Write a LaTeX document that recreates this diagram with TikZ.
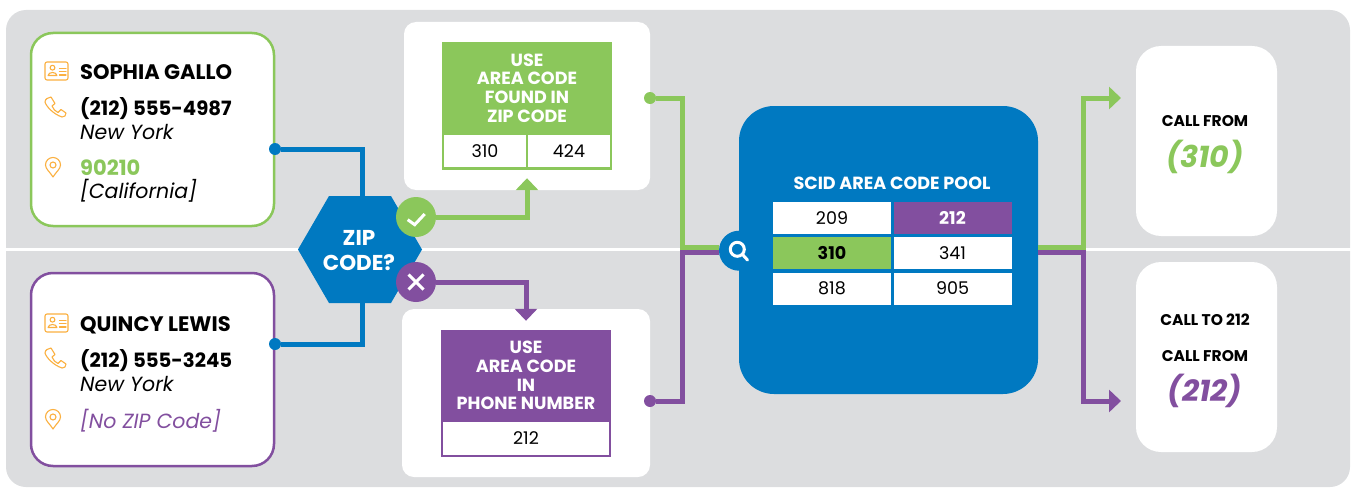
\documentclass[tikz,border=0pt]{standalone}
\usepackage{fontspec}
\setmainfont{Poppins}
\usetikzlibrary{arrows.meta}
\definecolor{panelgray}{HTML}{DCDDDF}
\definecolor{leafgreen}{HTML}{8BC75B}
\definecolor{plum}{HTML}{824F9F}
\definecolor{poolblue}{HTML}{0079C1}
\definecolor{iconamber}{HTML}{FBB040}
\tikzset{
	card/.style={draw,line width=2.5pt,fill=white,rounded corners=22pt,minimum width=243pt,minimum height=193pt,inner sep=0pt},
	whitebox/.style={fill=white,rounded corners=12pt,minimum width=246pt,minimum height=168pt,inner sep=0pt},
	callbox/.style={fill=white,rounded corners=25pt,minimum width=141pt,minimum height=190pt,inner sep=0pt},
	cell/.style={fill=white,inner sep=0pt,minimum height=32pt,text=black,font=\fontsize{17.5}{20}\selectfont},
	poolcell/.style={cell,minimum width=118pt},
	frame/.style={inner sep=0pt,minimum width=170pt},
	heading/.style={text=white,align=center,inner sep=0pt,font=\fontsize{17.6}{18.7}\selectfont\bfseries},
	infobold/.style={anchor=base west,inner sep=0pt,font=\fontsize{21}{24}\selectfont\bfseries},
	infophone/.style={anchor=base west,inner sep=0pt,font=\fontsize{19.7}{24}\selectfont\bfseries},
	infoital/.style={anchor=base west,inner sep=0pt,font=\fontsize{20.5}{24}\selectfont\itshape},
	calltext/.style={anchor=base,inner sep=0pt,font=\fontsize{15.5}{18}\selectfont\bfseries},
	callcode/.style={anchor=base,inner sep=0pt,font=\fontsize{30}{34}\selectfont\bfseries\itshape},
	dot/.style={circle,inner sep=0pt,minimum size=12pt},
	badge/.style={circle,inner sep=0pt,minimum size=40pt},
	wire/.style={line width=5pt},
	arrowwire/.style={wire,-{Triangle[width=22pt,length=12pt]}},
	glyph/.style={draw=white,line width=3pt},
	icon/.style={draw=iconamber,line width=1.1pt,line join=round,line cap=round},
	idicon/.pic={
		\draw[icon,rounded corners=2pt] (0,0) rectangle (23,18);
		\draw[icon] (7.5,5.7) circle (2.4);
		\draw[icon] (3,13.5) .. controls (3.5,9.5) and (11.5,9.5) .. (12,13.5) -- cycle;
		\draw[icon] (14.5,6.5) -- (21,6.5) (14.5,9.7) -- (21,9.7) (14.5,13) -- (21,13);
	},
	phoneicon/.pic={
		\draw[icon] (2,1.5) -- (6,0) -- (10,6.5) -- (7,9) .. controls (8,12) and (10.5,14.5) .. (13,15.5) -- (16,12.5) -- (21,16) -- (20,19) .. controls (19,20) and (18,20) .. (17,20) .. controls (8,17) and (1,9) .. (0,5) .. controls (0,3.5) and (1,2) .. (2,1.5) -- cycle;
	},
	pinicon/.pic={
		\draw[icon] (8,20) .. controls (5,15) and (0.5,12) .. (0.5,8) .. controls (0.5,3.5) and (4,0.5) .. (8,0.5) .. controls (12,0.5) and (15.5,3.5) .. (15.5,8) .. controls (15.5,12) and (11,15) .. (8,20) -- cycle;
		\draw[icon] (8,8) circle (3);
	}
}
\begin{document}
\begin{tikzpicture}[x=1pt,y=-1pt]
	\useasboundingbox (0,0) rectangle (1351,487);
	\fill[panelgray,rounded corners=20pt] (6,10) rectangle (1350,487);
	\draw[white,line width=2.6pt] (6,249.6) -- (1351,249.6);

	\node[card,draw=leafgreen] (sophia) at (152.5,129.5) {};
	\node[card,draw=plum] (quincy) at (152.5,369.5) {};
	\node[whitebox] (zipbox) at (527,106) {};
	\node[whitebox,minimum width=248pt] (phonebox) at (526,393) {};
	\node[callbox] (callzip) at (1206.5,141) {};
	\node[callbox] (callphone) at (1206.5,357) {};

	\pic at (45,62) {idicon};
	\pic at (45,97) {phoneicon};
	\pic at (45,157) {pinicon};
	\pic at (45,314) {idicon};
	\pic at (45,348) {phoneicon};
	\pic at (45,409) {pinicon};

	\node[infobold] (sophianame) at (80,79) {SOPHIA GALLO};
	\node[infophone] (sophiaphone) at (80,115) {(212) 555-4987};
	\node[infoital] (sophiacity) at (80,139) {New York};
	\node[infobold,text=leafgreen] (sophiazip) at (80,175) {90210};
	\node[infoital] (sophiastate) at (80,198) {[California]};
	\node[infobold] (quincyname) at (80,331) {QUINCY LEWIS};
	\node[infophone] (quincyphone) at (80,367) {(212) 555-3245};
	\node[infoital] (quincycity) at (80,391) {New York};
	\node[infoital,text=plum] (quincyzip) at (80,428) {[No ZIP Code]};

	\node[frame,fill=leafgreen,minimum height=128pt] (zipframe) at (527,106) {};
	\node[heading] (zipheading) at (527,88) {USE\\AREA CODE\\FOUND IN\\ZIP CODE};
	\node[cell,minimum width=82pt] (zipcella) at (485,151) {310};
	\node[cell,minimum width=82pt] (zipcellb) at (569,151) {424};
	\node[frame,fill=plum,minimum height=127pt] (phoneframe) at (526,393.5) {};
	\node[heading] (phoneheading) at (526,375.5) {USE\\AREA CODE\\IN\\PHONE NUMBER};
	\node[cell,minimum width=166pt,minimum height=33pt] (phonecell) at (526,438.5) {212};

	\node[dot,fill=poolblue] (sophiadot) at (275,149) {};
	\node[dot,fill=poolblue] (quincydot) at (275,344) {};
	\node[dot,fill=leafgreen] (zipdot) at (650,98) {};
	\node[dot,fill=plum] (phonedot) at (650,401) {};

	\coordinate (ziptop) at (362.5,196);
	\coordinate (zipbottom) at (362.5,303);
	\coordinate (greenin) at (682,247);
	\coordinate (plumin) at (682,252);
	\coordinate (greenup) at (1083,247);
	\coordinate (plumdown) at (1083,252);
	\coordinate (greenout) at (1121,98);
	\coordinate (plumout) at (1121,401);

	\node[circle,fill=poolblue,inner sep=0pt,minimum size=40pt] (lens) at (739,250.7) {};
	\node[fill=poolblue,rounded corners=35pt,minimum width=299pt,minimum height=288pt,inner sep=0pt] (pool) at (888.5,250) {};

	\draw[wire,poolblue] (sophiadot) -| (ziptop);
	\draw[wire,poolblue] (quincydot) -| (zipbottom);
	\draw[wire,leafgreen] (zipdot) -| (greenin) -- (greenin -| lens.west);
	\draw[wire,plum] (phonedot) -| (plumin) -- (plumin -| lens.west);
	\draw[arrowwire,leafgreen] (greenin -| pool.east) -- (greenup) |- (greenout);
	\draw[arrowwire,plum] (plumin -| pool.east) -- (plumdown) |- (plumout);

	\fill[poolblue] (298,249.5) -- (329,196) -- (391,196) -- (422,249.5) -- (391,303) -- (329,303) -- cycle;
	\node[text=white,align=center,inner sep=0pt,font=\fontsize{21.5}{25}\selectfont\bfseries] (zipcode) at (359,251) {ZIP\\CODE?};
	\node[badge,fill=leafgreen] (okmark) at (416,217) {};
	\node[badge,fill=plum] (badmark) at (416,282) {};
	\draw[arrowwire,leafgreen,shorten >=8pt] (okmark) -| (zipframe.south);
	\draw[arrowwire,plum,shorten >=9pt] (badmark) -| (phoneframe.north);
	\draw[glyph] (okmark) ++(-8.3,2.7) -- ++(7,5) -- ++(10,-10.7);
	\draw[glyph] (badmark) ++(-7.5,-7.5) -- ++(15,15) (badmark) ++(7.5,-7.5) -- ++(-15,15);

	\draw[glyph] (737.3,249.3) circle (7);
	\draw[glyph,line cap=round] (742.5,254.5) -- (747.5,260);

	\node[anchor=base,text=white,inner sep=0pt,font=\fontsize{17.6}{20}\selectfont\bfseries] (pooltitle) at (892,189) {SCID AREA CODE POOL};
	\node[poolcell] (poola) at (832,218) {209};
	\node[poolcell,fill=plum,text=white,font=\fontsize{17.5}{20}\selectfont\bfseries] (poolb) at (952.5,218) {212};
	\node[poolcell,fill=leafgreen,font=\fontsize{17.5}{20}\selectfont\bfseries] (poolc) at (832,253) {310};
	\node[poolcell] (poold) at (952.5,253) {341};
	\node[poolcell] (poole) at (832,288.5) {818};
	\node[poolcell] (poolf) at (952.5,288.5) {905};

	\node[calltext] (callfroma) at (1205,126.7) {CALL FROM};
	\begin{scope}
		\clip (1136,130) rectangle (1277,173);
		\node[callcode,text=leafgreen] (codea) at (1205,167) {(310)};
	\end{scope}
	\node[calltext] (callto) at (1205,325) {CALL TO 212};
	\node[calltext] (callfromb) at (1205,361) {CALL FROM};
	\begin{scope}
		\clip (1136,365) rectangle (1277,407);
		\node[callcode,text=plum] (codeb) at (1205,401) {(212)};
	\end{scope}
\end{tikzpicture}
\end{document}
